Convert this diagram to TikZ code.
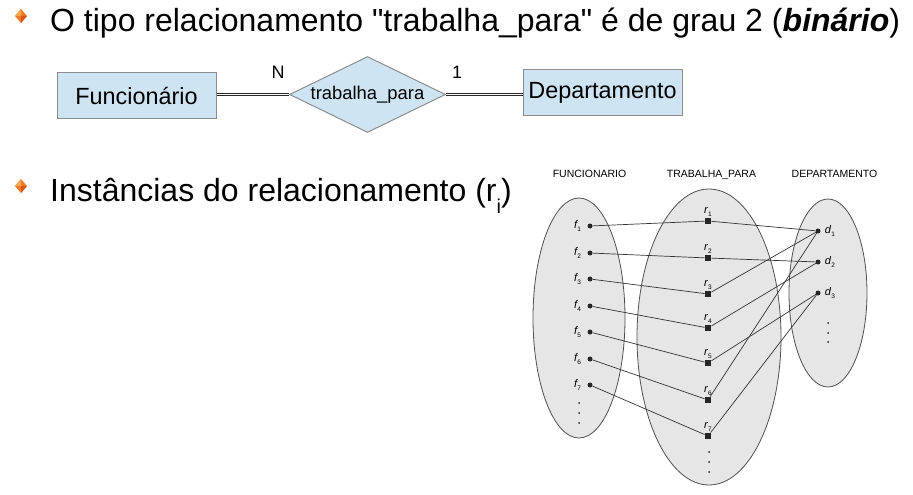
\documentclass[tikz,border=0pt]{standalone}
\usepackage{fontspec}
\setmainfont{Liberation Sans}
\usetikzlibrary{shapes.geometric}
\definecolor{erblue}{HTML}{CFE4F2}
\definecolor{erline}{HTML}{8C8C8C}
\definecolor{setfill}{HTML}{E6E6E6}
\definecolor{setline}{HTML}{505050}
\definecolor{linkcol}{HTML}{333333}
\definecolor{gemmid}{HTML}{F07A22}
\definecolor{gemlight}{HTML}{F9A64A}
\definecolor{gemdark}{HTML}{D5561A}
\newcommand\instlbl[2]{{\itshape #1}\kern0.3pt\raisebox{-2.5pt}{\fontsize{6.5}{6.5}\selectfont #2}}
\begin{document}
\begin{tikzpicture}[x=1pt,y=-1pt,
  gem/.pic={
    \fill[gemmid] (0,-7) -- (6,0) -- (0,7) -- (-6,0) -- cycle;
    \fill[gemlight] (0,-7) -- (-6,0) -- (0,0) -- cycle;
    \fill[gemdark] (0,7) -- (6,0) -- (0,0) -- cycle;
  },
  bigtext/.style={anchor=base west, inner sep=0pt, font=\fontsize{32}{38}\selectfont},
  entity/.style={draw=erline, fill=erblue, line width=1pt, inner sep=0pt,
    minimum width=159pt, minimum height=45pt, font=\fontsize{23.4}{28}\selectfont},
  relship/.style={diamond, draw=erline, fill=erblue, line width=1pt, inner sep=0pt,
    shape aspect=2.05, minimum width=156pt, minimum height=76pt,
    font=\fontsize{18.4}{22}\selectfont},
  dbl/.style={draw=black!85, double=white, line width=0.8pt, double distance=1.6pt},
  card/.style={anchor=base, inner sep=0pt, font=\fontsize{18}{22}\selectfont},
  sethead/.style={anchor=base, inner sep=0pt, font=\fontsize{10.5}{12}\selectfont},
  setell/.style={ellipse, draw=setline, fill=setfill, line width=0.8pt, inner sep=0pt},
  pt/.style={circle, fill=black!85, inner sep=0pt, minimum size=5pt},
  sq/.style={rectangle, fill=black!85, inner sep=0pt, minimum size=6.5pt},
  vdot/.style={circle, fill=black!85, inner sep=0pt, minimum size=2pt},
  ilbl/.style={inner sep=0pt, font=\fontsize{11}{12}\selectfont},
  link/.style={draw=linkcol, line width=0.7pt}
]
\useasboundingbox (0,0) rectangle (913,495);

% bullets and headings
\pic at (21,16) {gem};
\pic at (21,186) {gem};
\node[bigtext] (title1) at (50,31.5) {O tipo relacionamento \textquotedbl trabalha\_para\textquotedbl{} é de grau 2 (\textbf{\textit{binário}})};
\node[bigtext] (title2) at (50,201.5) {Instâncias do relacionamento (r\raisebox{-12pt}{\fontsize{20}{20}\selectfont i})};

% ER diagram
\node[entity] (func) at (136.5,95.5) {Funcionário};
\node[relship] (rel) at (367.5,94.5) {trabalha\_para};
\node[entity] (dept) at (602.5,92.5) {Departamento};
\draw[dbl] (func.east |- rel.west) -- (rel.west);
\draw[dbl] (rel.east) -- (dept.west |- rel.east);
\node[card] (cardN) at (278,78) {N};
\node[card] (card1) at (457,78) {1};

% instance diagram
\node[sethead] (hF) at (589.5,177) {FUNCIONARIO};
\node[sethead] (hR) at (711.5,177) {TRABALHA\_PARA};
\node[sethead] (hD) at (834.5,177) {DEPARTAMENTO};

\node[setell, minimum width=92pt, minimum height=240pt] (setF) at (579,318) {};
\node[setell, minimum width=144pt, minimum height=296pt] (setR) at (709,337) {};
\node[setell, minimum width=78pt, minimum height=188pt] (setD) at (828,293) {};

% points
\foreach \i/\y in {1/226,2/253,3/279,4/306,5/332,6/359,7/385}{
  \node[pt, label={[ilbl, label distance=6pt]left:\instlbl{f}{\i}}] (f\i) at (590,\y) {};
}
\foreach \i/\y in {1/221,2/258,3/294,4/328,5/363,6/400,7/436}{
  \node[sq, label={[ilbl, label distance=1pt]above:\instlbl{r}{\i}}] (r\i) at (708,\y) {};
}
\foreach \i/\y in {1/231,2/262,3/293}{
  \node[pt, label={[ilbl, label distance=4pt]right:\instlbl{d}{\i}}] (d\i) at (818,\y) {};
}

% vertical ellipses
\foreach \y [count=\k] in {403,413,423}{ \node[vdot] (fv\k) at (579,\y) {}; }
\foreach \y [count=\k] in {452,462,472}{ \node[vdot] (rv\k) at (709,\y) {}; }
\foreach \y [count=\k] in {323,333,342}{ \node[vdot] (dv\k) at (828,\y) {}; }

% connectors
\foreach \i in {1,...,7}{ \draw[link] (f\i) -- (r\i); }
\draw[link] (r1) -- (d1);
\draw[link] (r2) -- (d2);
\draw[link] (r3) -- (d1);
\draw[link] (r4) -- (d2);
\draw[link] (r5) -- (d3);
\draw[link] (r6) -- (d1);
\draw[link] (r7) -- (d3);
\end{tikzpicture}
\end{document}
